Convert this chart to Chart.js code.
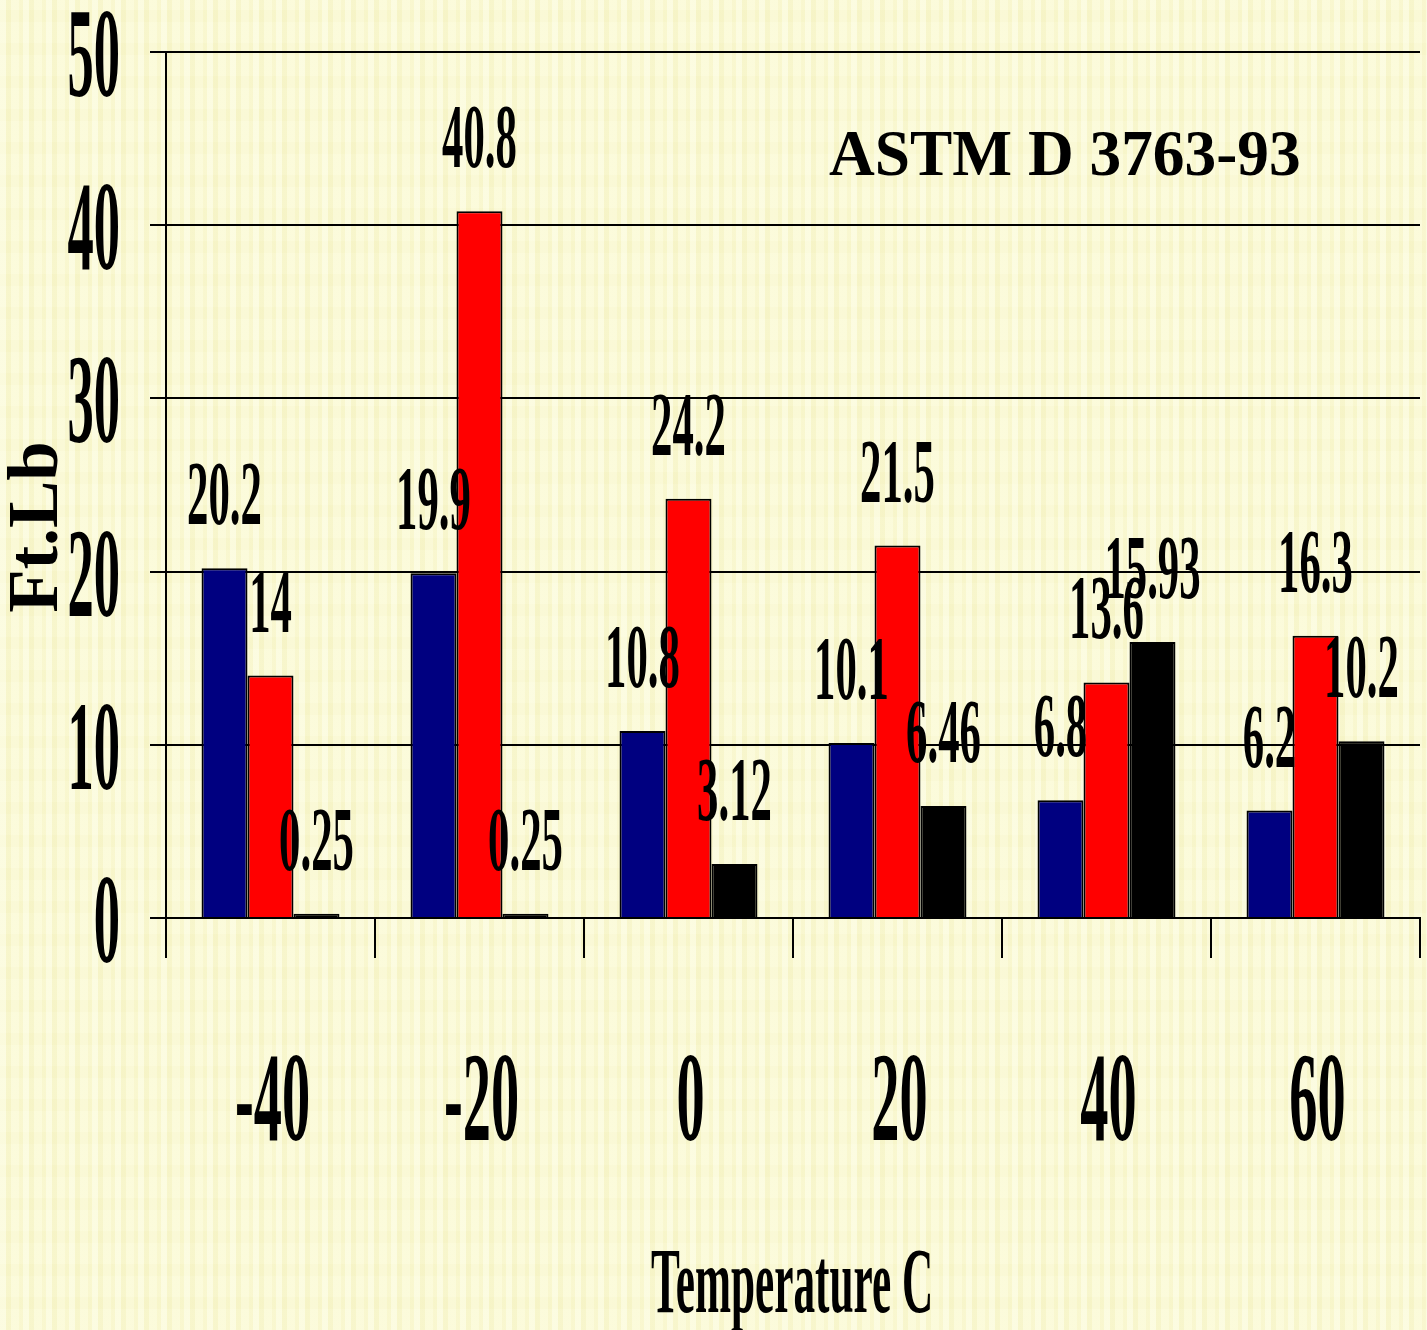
<!DOCTYPE html>
<html>
<head>
<meta charset="utf-8">
<title>ASTM D 3763-93</title>
<script src="https://cdn.jsdelivr.net/npm/chart.js@4/dist/chart.umd.min.js"></script>
<style>
    html, body {
        margin: 0;
        padding: 0;
    }
    body {
        width: 1427px;
        height: 1330px;
        overflow: hidden;
        background-color: #f9f8d0;
        background-image:
            repeating-linear-gradient(90deg, rgba(255,255,240,0.45) 0 6px, rgba(240,236,180,0.25) 6px 11px, rgba(255,255,235,0.3) 11px 19px, rgba(244,240,190,0.2) 19px 23px),
            repeating-linear-gradient(0deg, rgba(255,255,240,0.12) 0 21px, rgba(238,234,178,0.1) 21px 33px);
    }
    canvas { display: block; }
</style>
</head>
<body>
<canvas id="impactChart" width="1427" height="1330"></canvas>
<script>
// Dữ liệu
const temperatures = ['-40', '-20', '0', '20', '40', '60'];
const seriesBlue = [20.2, 19.9, 10.8, 10.1, 6.8, 6.2];
const seriesRed = [14, 40.8, 24.2, 21.5, 13.6, 16.3];
const seriesBlack = [0.25, 0.25, 3.12, 6.46, 15.93, 10.2];
const yTickValues = [0, 10, 20, 30, 40, 50];

const FONT = '"Liberation Serif", "Times New Roman", serif';

// Vẽ chữ bị ép ngang giống font gốc
function squishText(ctx, text, x, y, size, sx, align) {
    ctx.save();
    ctx.font = 'bold ' + size + 'px ' + FONT;
    ctx.textAlign = align || 'center';
    ctx.textBaseline = 'alphabetic';
    ctx.fillStyle = '#000';
    ctx.translate(x, y);
    ctx.scale(sx, 1);
    ctx.fillText(text, 0, 0);
    ctx.restore();
}

const textPlugin = {
    id: 'textPlugin',
    afterDraw(chart) {
        const ctx = chart.ctx;
        const area = chart.chartArea;
        const xScale = chart.scales.x;
        const yScale = chart.scales.y;

        // Nhãn trục Y
        yTickValues.forEach(v => {
            squishText(ctx, String(v), 120, yScale.getPixelForValue(v) + 44, 128, 0.41, 'right');
        });

        // Nhãn trục X
        temperatures.forEach((t, i) => {
            squishText(ctx, t, xScale.getPixelForValue(i) + 2, area.bottom + 222, 128, 0.44, 'center');
        });

        // Nhãn giá trị trên cột
        chart.data.datasets.forEach((ds, di) => {
            const meta = chart.getDatasetMeta(di);
            meta.data.forEach((bar, i) => {
                squishText(ctx, String(ds.data[i]), bar.x, bar.y - 44, 90, 0.475, 'center');
            });
        });

        // Tiêu đề trục X
        squishText(ctx, 'Temperature C', (area.left + area.right) / 2 - 1, 1312, 94, 0.46, 'center');

        // Tiêu đề trục Y (xoay dọc)
        ctx.save();
        ctx.translate(57, 527);
        ctx.rotate(-Math.PI / 2);
        ctx.font = 'bold 71px ' + FONT;
        ctx.textAlign = 'center';
        ctx.textBaseline = 'alphabetic';
        ctx.fillStyle = '#000';
        ctx.fillText('Ft.Lb', 0, 0);
        ctx.restore();

        // Chú thích tiêu chuẩn
        squishText(ctx, 'ASTM D 3763-93', 829, 175, 66, 0.96, 'left');
    }
};

const ctxChart = document.getElementById('impactChart').getContext('2d');

const impactChart = new Chart(ctxChart, {
    type: 'bar',
    data: {
        labels: temperatures,
        datasets: [
            { label: 'Series 1', data: seriesBlue, backgroundColor: '#000080', borderColor: '#000', borderWidth: 2 },
            { label: 'Series 2', data: seriesRed, backgroundColor: '#ff0000', borderColor: '#000', borderWidth: 2 },
            { label: 'Series 3', data: seriesBlack, backgroundColor: '#000000', borderColor: '#000', borderWidth: 2 }
        ]
    },
    options: {
        responsive: false,
        animation: false,
        categoryPercentage: 0.66,
        barPercentage: 1.0,
        layout: { padding: { left: 150, right: 7, top: 52, bottom: 372 } },
        plugins: {
            legend: { display: false },
            tooltip: { enabled: false }
        },
        scales: {
            x: {
                ticks: { display: false },
                grid: { offset: true, drawOnChartArea: false, drawTicks: true, tickLength: 40, color: '#000', lineWidth: 2 },
                border: { display: true, color: '#000', width: 2 }
            },
            y: {
                min: 0,
                max: 50,
                ticks: { stepSize: 10, display: false },
                grid: { color: '#000', lineWidth: 2, drawTicks: true, tickLength: 16 },
                border: { display: true, color: '#000', width: 2 }
            }
        }
    },
    plugins: [textPlugin]
});
</script>
</body>
</html>
